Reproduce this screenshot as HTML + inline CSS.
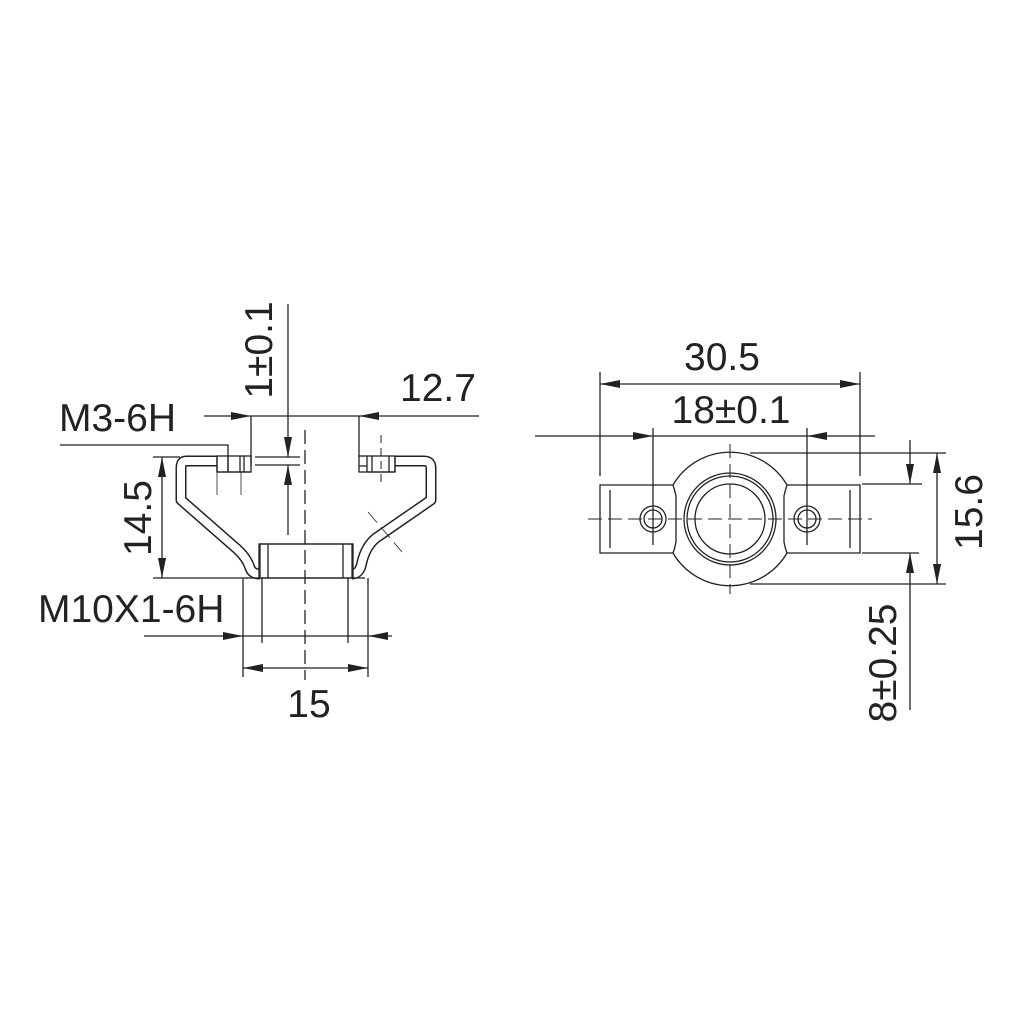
<!DOCTYPE html>
<html><head><meta charset="utf-8"><style>html,body{margin:0;padding:0;background:#fff}svg{display:block}</style></head>
<body>
<svg width="1024" height="1024" viewBox="0 0 1024 1024" xmlns="http://www.w3.org/2000/svg" font-family="Liberation Sans, sans-serif">
<defs>
<marker id="a" viewBox="0 0 20 8" refX="20" refY="4" markerWidth="20" markerHeight="8" markerUnits="userSpaceOnUse" orient="auto-start-reverse"><path d="M0,0 L20,4 L0,8 z" fill="#222"/></marker>
</defs>
<g stroke="#222" stroke-width="1.3" fill="none">
<g id="sheet">
<path d="M251,461 L186,461 Q181,461 181,468 L181,500 L237,549 Q247,558 250,568 Q252,574 260,574 M359,461 L424,461 Q431,461 431,468 L431,500 L376,538 Q366,546 362,562 Q360,574 352,574" stroke="#222" stroke-width="11" stroke-linejoin="round"/>
<path d="M251,461 L186,461 Q181,461 181,468 L181,500 L237,549 Q247,558 250,568 Q252,574 260,574 M359,461 L424,461 Q431,461 431,468 L431,500 L376,538 Q366,546 362,562 Q360,574 352,574" stroke="#fff" stroke-width="8" stroke-linejoin="round"/>
</g>
<rect x="259" y="544" width="94" height="34" fill="#fff"/>
<line x1="245" y1="578" x2="365" y2="578"/>
<line x1="259" y1="544" x2="353" y2="544"/>
<line x1="260" y1="544" x2="260" y2="578"/><line x1="268" y1="544" x2="268" y2="578"/>
<line x1="343" y1="544" x2="343" y2="578"/><line x1="352" y1="544" x2="352" y2="578"/>
<rect x="217" y="456" width="34" height="16" fill="#fff"/>
<line x1="217" y1="456" x2="217" y2="472"/><line x1="217" y1="472" x2="251" y2="472"/>
<line x1="228" y1="456" x2="228" y2="472"/><line x1="240" y1="456" x2="240" y2="472"/><line x1="244" y1="456" x2="244" y2="472"/>
<line x1="251" y1="456" x2="251" y2="466"/>
<rect x="359" y="456" width="36" height="16" fill="#fff"/>
<line x1="367" y1="456" x2="367" y2="472"/><line x1="395" y1="456" x2="395" y2="472"/><line x1="367" y1="472" x2="395" y2="472"/>
<line x1="372" y1="456" x2="372" y2="472"/><line x1="389" y1="456" x2="389" y2="472"/>
<line x1="359" y1="466" x2="367" y2="466"/>
<line x1="217" y1="472" x2="217" y2="495" stroke-width="0.8"/><line x1="241" y1="472" x2="241" y2="495" stroke-width="0.8"/>
<line x1="381" y1="435" x2="381" y2="485" stroke-dasharray="8,5" stroke-width="1"/>
<line x1="368" y1="512" x2="402" y2="552" stroke-width="0.8" stroke-dasharray="14,6"/>
<line x1="305" y1="430" x2="305" y2="680" stroke-dasharray="14,6"/>
<polyline points="60,445 228,445 228,472"/>
<line x1="204" y1="416" x2="251" y2="416" marker-end="url(#a)"/>
<line x1="251" y1="416" x2="359" y2="416"/>
<line x1="479" y1="416" x2="359" y2="416" marker-end="url(#a)"/>
<line x1="251" y1="416" x2="251" y2="457"/><line x1="359" y1="416" x2="359" y2="457"/>
<line x1="288" y1="304" x2="288" y2="457" marker-end="url(#a)"/>
<line x1="288" y1="535" x2="288" y2="465" marker-end="url(#a)"/>
<line x1="255" y1="457" x2="300" y2="457"/><line x1="255" y1="465" x2="300" y2="465"/>
<line x1="153" y1="457" x2="180" y2="457"/><line x1="153" y1="578" x2="248" y2="578"/>
<line x1="162" y1="518" x2="162" y2="457" marker-end="url(#a)"/>
<line x1="162" y1="518" x2="162" y2="578" marker-end="url(#a)"/>
<line x1="243" y1="578" x2="243" y2="677"/><line x1="368" y1="578" x2="368" y2="677"/>
<line x1="262" y1="578" x2="262" y2="643"/><line x1="348" y1="578" x2="348" y2="643"/>
<line x1="144" y1="636" x2="243" y2="636" marker-end="url(#a)"/>
<line x1="243" y1="636" x2="368" y2="636"/>
<line x1="392" y1="636" x2="368" y2="636" marker-end="url(#a)"/>
<line x1="305" y1="668" x2="243" y2="668" marker-end="url(#a)"/>
<line x1="305" y1="668" x2="368" y2="668" marker-end="url(#a)"/>

<path d="M673,485 L600,485 L600,553 L673,553 M787,485 L860,485 L860,553 L787,553"/>
<line x1="610" y1="490" x2="610" y2="548"/><line x1="850" y1="490" x2="850" y2="548"/>
<path d="M673,485 A66,66 0 0 1 787,485 M787,553 A66,66 0 0 1 673,553"/>
<path d="M673,485 Q675,491 676,496 L676,542 Q675,548 673,553 M787,485 Q785,491 784,496 L784,542 Q785,548 787,553"/>
<circle cx="730" cy="519" r="46"/><circle cx="730" cy="519" r="43"/><circle cx="730" cy="519" r="35"/>
<circle cx="653" cy="519" r="13"/><circle cx="653" cy="519" r="9"/>
<circle cx="807" cy="519" r="13"/><circle cx="807" cy="519" r="9"/>
<line x1="588" y1="519" x2="872" y2="519" stroke-dasharray="14,6" stroke-width="1"/>
<line x1="730" y1="444" x2="730" y2="594" stroke-dasharray="14,6" stroke-width="1"/>
<line x1="653" y1="428" x2="653" y2="545"/>
<line x1="807" y1="428" x2="807" y2="545"/>
<line x1="600" y1="372" x2="600" y2="476"/><line x1="860" y1="372" x2="860" y2="476"/>
<line x1="730" y1="384" x2="600" y2="384" marker-end="url(#a)"/>
<line x1="730" y1="384" x2="860" y2="384" marker-end="url(#a)"/>
<line x1="535" y1="436" x2="653" y2="436" marker-end="url(#a)"/>
<line x1="653" y1="436" x2="807" y2="436"/>
<line x1="875" y1="436" x2="807" y2="436" marker-end="url(#a)"/>
<line x1="750" y1="453" x2="946" y2="453"/><line x1="750" y1="584" x2="946" y2="584"/>
<line x1="862" y1="484" x2="922" y2="484"/><line x1="862" y1="553" x2="919" y2="553"/>
<line x1="937" y1="518" x2="937" y2="453" marker-end="url(#a)"/>
<line x1="937" y1="518" x2="937" y2="584" marker-end="url(#a)"/>
<line x1="910" y1="440" x2="910" y2="484" marker-end="url(#a)"/>
<line x1="910" y1="710" x2="910" y2="553" marker-end="url(#a)"/>
</g>
<g fill="#222" font-size="39">
<text x="59" y="431">M3-6H</text>
<text x="400" y="401">12.7</text>
<text transform="translate(272,350) rotate(-90)" text-anchor="middle">1±0.1</text>
<text transform="translate(151,518) rotate(-90)" text-anchor="middle">14.5</text>
<text x="38" y="622">M10X1-6H</text>
<text x="309" y="717" text-anchor="middle">15</text>
<text x="722" y="370" text-anchor="middle">30.5</text>
<text x="731" y="423" text-anchor="middle">18±0.1</text>
<text transform="translate(982,512) rotate(-90)" text-anchor="middle">15.6</text>
<text transform="translate(896,663) rotate(-90)" text-anchor="middle">8±0.25</text>
</g>
</svg>
</body></html>
